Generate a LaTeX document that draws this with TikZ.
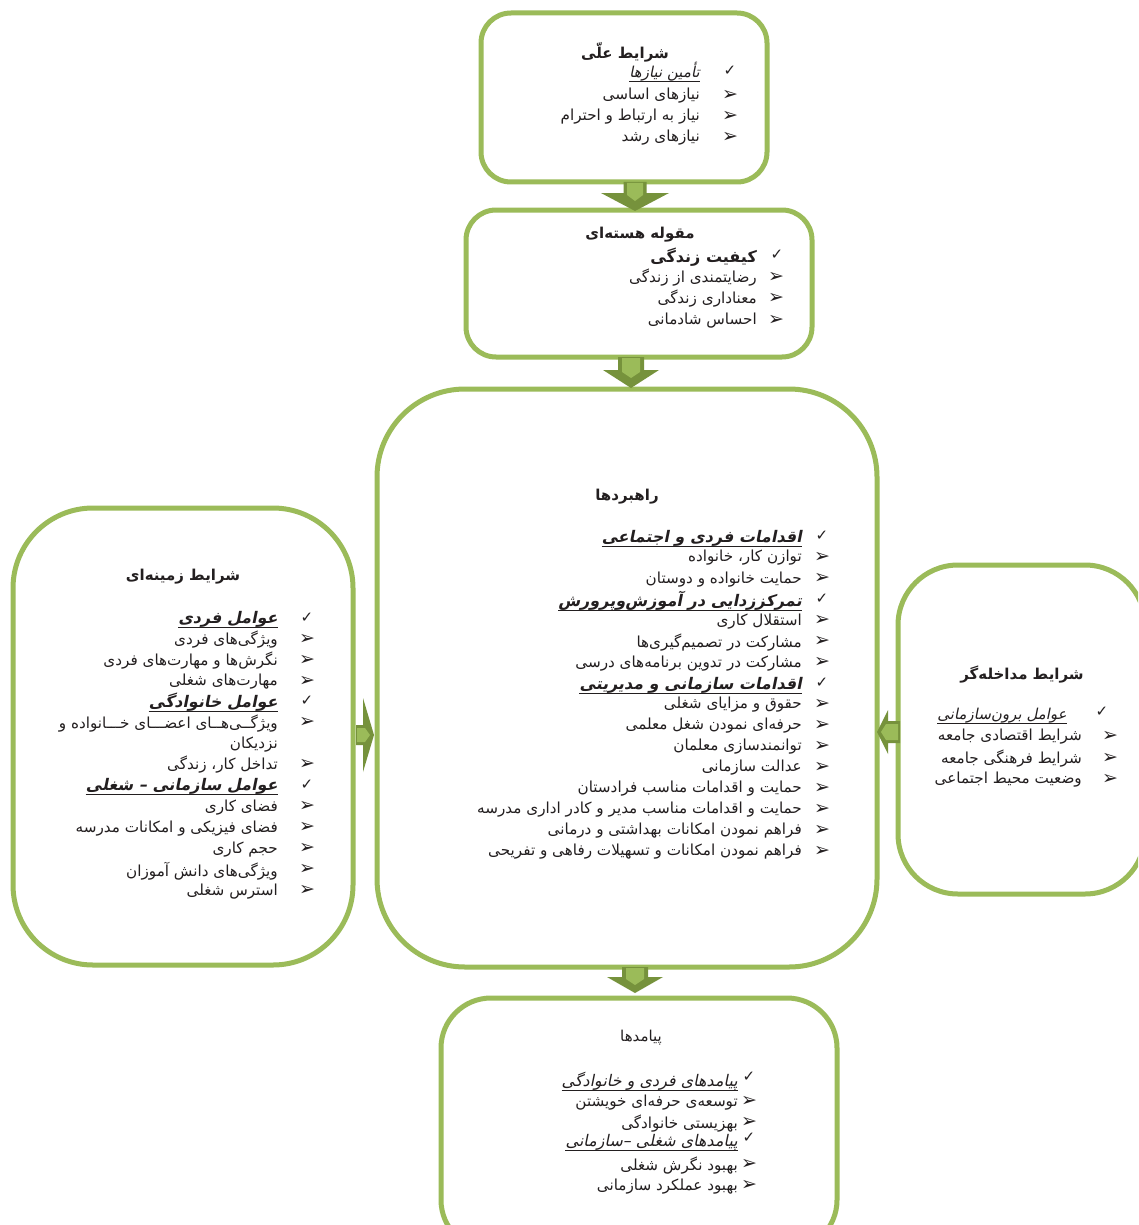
\documentclass[tikz,border=0pt]{standalone}
\usepackage{fontspec}
\usetikzlibrary{calc}
\TeXXeTstate=1
\newfontfamily\fa[Script=Arabic]{DejaVu Sans}
\newfontfamily\fait[Script=Arabic,FakeSlant=0.2]{DejaVu Sans}
\newfontfamily\sym{DejaVu Sans}
\definecolor{grn}{RGB}{155,187,89}
\definecolor{dkgrn}{RGB}{118,146,60}
\definecolor{ink}{RGB}{35,31,32}
\tikzset{
  pbox/.style={draw=grn, line width=5pt, rounded corners=#1, outer sep=0pt, inner sep=0pt, fill=white},
  pbox/.default=30pt,
  txt/.style={font=\fa\fontsize{15.2}{17}\selectfont, inner sep=0pt, anchor=east, text=ink},
  itx/.style={txt, font=\fait\fontsize{15}{17}\selectfont},
  itxb/.style={txt, font=\fait\fontsize{16}{18}\selectfont},
  hd/.style={txt, font=\fait\bfseries\fontsize{16}{18}\selectfont},
  hdup/.style={txt, font=\fa\bfseries\fontsize{16}{18}\selectfont},
  ttl/.style={font=\fa\bfseries\fontsize{15}{17}\selectfont, inner sep=0pt, text=ink},
  ttlr/.style={font=\fa\fontsize{15}{17}\selectfont, inner sep=0pt, text=ink},
  ck/.style={font=\sym\fontsize{15}{17}\selectfont, inner sep=0pt, text=ink},
  arh/.style={font=\sym\fontsize{19}{21}\selectfont, inner sep=0pt, text=ink},
  uln/.style={draw=ink, line width=1pt},
  adark/.style={fill=dkgrn},
  alight/.style={fill=grn}
}
\begin{document}
\begin{tikzpicture}[x=1pt,y=-1pt]
\useasboundingbox (0,0) rectangle (1138,1225);
\clip (0,0) rectangle (1138,1225);
\fill[white] (0,0) rectangle (1138,1225);
% boxes
\node[pbox=30pt, minimum width=286pt, minimum height=169pt] (causal) at (624,97.5) {};
\node[pbox=30pt, minimum width=346pt, minimum height=147pt] (core) at (639,283.5) {};
\node[pbox=88pt, minimum width=500pt, minimum height=578pt] (strat) at (627,678) {};
\node[pbox=80pt, minimum width=340pt, minimum height=457pt] (ctx) at (183,736.5) {};
\node[pbox=60pt, minimum width=247pt, minimum height=329pt] (interv) at (1021.5,729.5) {};
\node[pbox=50pt, minimum width=396pt, minimum height=252pt] (cons) at (639,1124) {};
% arrows
\begin{scope}[shift={(635,0 |- causal.south)}]
  \fill[adark] (-11.5,0) -- (11.5,0) -- (11.5,11) -- (34,11) -- (0,29) -- (-34,11) -- (-11.5,11) -- cycle;
  \fill[alight] (-8,1) -- (8,1) -- (8,13) -- (0,19) -- (-8,13) -- cycle;
\end{scope}
\begin{scope}[shift={(631,0 |- core.south)}]
  \fill[adark] (-13,0) -- (13,0) -- (13,13) -- (28,13) -- (0,31) -- (-28,13) -- (-13,13) -- cycle;
  \fill[alight] (-9,1) -- (9,1) -- (9,15) -- (0,21) -- (-9,15) -- cycle;
\end{scope}
\begin{scope}[shift={(635,0 |- strat.south)}]
  \fill[adark] (-13,0) -- (13,0) -- (13,10) -- (28,10) -- (0,26) -- (-28,10) -- (-13,10) -- cycle;
  \fill[alight] (-9,1) -- (9,1) -- (9,12) -- (0,18) -- (-9,12) -- cycle;
\end{scope}
\begin{scope}[shift={(ctx.east |- 0,735)}]
  \fill[adark] (3,-10) -- (10,-10) -- (10,-37) -- (21,0) -- (10,37) -- (10,10) -- (3,10) -- cycle;
  \fill[alight] (4,-7) -- (12,-7) -- (17,0) -- (12,7) -- (4,7) -- cycle;
\end{scope}
\begin{scope}[shift={(interv.west |- 0,732)}]
  \fill[adark] (2,-11) -- (-10,-11) -- (-10,-22) -- (-21,0) -- (-10,22) -- (-10,11) -- (2,11) -- cycle;
  \fill[alight] (0,-8) -- (-12,-8) -- (-17,0) -- (-12,8) -- (0,8) -- cycle;
\end{scope}
% ---- box 1: causal conditions
\node[ttl] (c0) at (625,52) {\beginR شرایط علّی\endR};
\node[itx] (c1) at (700,72) {\beginR تأمین نیازها\endR};
\node[txt] (c2) at (700,96) {\beginR نیازهای اساسی\endR};
\node[txt] (c3) at (700,117) {\beginR نیاز به ارتباط و احترام\endR};
\node[txt] (c4) at (700,138) {\beginR نیازهای رشد\endR};
\node[ck] (cb1) at (730,71) {✓};
\node[arh] (cb2) at (730,95) {➢};
\node[arh] (cb3) at (730,116) {➢};
\node[arh] (cb4) at (730,137) {➢};
\draw[uln] (c1.south west) -- (c1.south east);
% ---- box 2: core category
\node[ttl] (k0) at (640,235) {\beginR مقوله هسته‌ای\endR};
\node[hdup] (k1) at (757,257) {\beginR کیفیت زندگی\endR};
\node[txt] (k2) at (757,278) {\beginR رضایتمندی از زندگی\endR};
\node[txt] (k3) at (757,299) {\beginR معناداری زندگی\endR};
\node[txt] (k4) at (757,321) {\beginR احساس شادمانی\endR};
\node[ck] (kb1) at (777,255) {✓};
\node[arh] (kb2) at (776,277) {➢};
\node[arh] (kb3) at (776,298) {➢};
\node[arh] (kb4) at (776,320) {➢};
% ---- box 3: strategies
\node[ttl] (s0) at (627,497) {\beginR راهبردها\endR};
\node[hd] (s1) at (802,538) {\beginR اقدامات فردی و اجتماعی\endR};
\node[txt] (s2) at (802,558) {\beginR توازن کار، خانواده\endR};
\node[txt] (s3) at (802,580) {\beginR حمایت خانواده و دوستان\endR};
\node[hd] (s4) at (802,601) {\beginR تمرکززدایی در آموزش‌وپرورش\endR};
\node[txt] (s5) at (802,622) {\beginR استقلال کاری\endR};
\node[txt] (s6) at (802,643) {\beginR مشارکت در تصمیم‌گیری‌ها\endR};
\node[txt] (s7) at (802,664) {\beginR مشارکت در تدوین برنامه‌های درسی\endR};
\node[hd] (s8) at (802,685) {\beginR اقدامات سازمانی و مدیریتی\endR};
\node[txt] (s9) at (802,705) {\beginR حقوق و مزایای شغلی\endR};
\node[txt] (s10) at (802,726) {\beginR حرفه‌ای نمودن شغل معلمی\endR};
\node[txt] (s11) at (802,747) {\beginR توانمندسازی معلمان\endR};
\node[txt] (s12) at (802,768) {\beginR عدالت سازمانی\endR};
\node[txt] (s13) at (802,789) {\beginR حمایت و اقدامات مناسب فرادستان\endR};
\node[txt] (s14) at (802,810) {\beginR حمایت و اقدامات مناسب مدیر و کادر اداری مدرسه\endR};
\node[txt] (s15) at (802,831) {\beginR فراهم نمودن امکانات بهداشتی و درمانی\endR};
\node[txt] (s16) at (802,852) {\beginR فراهم نمودن امکانات و تسهیلات رفاهی و تفریحی\endR};
\node[ck] (sb1) at (822,536) {✓};
\node[arh] (sb2) at (822,557) {➢};
\node[arh] (sb3) at (822,578) {➢};
\node[ck] (sb4) at (822,599) {✓};
\node[arh] (sb5) at (822,620) {➢};
\node[arh] (sb6) at (822,641) {➢};
\node[arh] (sb7) at (822,662) {➢};
\node[ck] (sb8) at (822,683) {✓};
\node[arh] (sb9) at (822,704) {➢};
\node[arh] (sb10) at (822,725) {➢};
\node[arh] (sb11) at (822,746) {➢};
\node[arh] (sb12) at (822,767) {➢};
\node[arh] (sb13) at (822,788) {➢};
\node[arh] (sb14) at (822,809) {➢};
\node[arh] (sb15) at (822,830) {➢};
\node[arh] (sb16) at (822,851) {➢};
\draw[uln] (s1.south west) -- (s1.south east);
\draw[uln] (s4.south west) -- (s4.south east);
\draw[uln] (s8.south west) -- (s8.south east);
% ---- box 4: contextual conditions
\node[ttl] (z0) at (183,577) {\beginR شرایط زمینه‌ای\endR};
\node[hd] (z1) at (278,619) {\beginR عوامل فردی\endR};
\node[txt] (z2) at (278,640) {\beginR ویژگی‌های فردی\endR};
\node[txt] (z3) at (278,661) {\beginR نگرش‌ها و مهارت‌های فردی\endR};
\node[txt] (z4) at (278,682) {\beginR مهارت‌های شغلی\endR};
\node[hd] (z5) at (278,702) {\beginR عوامل خانوادگی\endR};
\node[txt] (z6) at (278,724) {\beginR ویژگــی‌هــای اعضـــای خـــانواده و\endR};
\node[txt] (z7) at (278,745) {\beginR نزدیکان\endR};
\node[txt] (z8) at (278,765) {\beginR تداخل کار، زندگی\endR};
\node[hd] (z9) at (278,786) {\beginR عوامل سازمانی – شغلی\endR};
\node[txt] (z10) at (278,808) {\beginR فضای کاری\endR};
\node[txt] (z11) at (278,829) {\beginR فضای فیزیکی و امکانات مدرسه\endR};
\node[txt] (z12) at (278,850) {\beginR حجم کاری\endR};
\node[txt] (z13) at (278,871) {\beginR ویژگی‌های دانش آموزان\endR};
\node[txt] (z14) at (278,892) {\beginR استرس شغلی\endR};
\node[ck] (zb1) at (307,618) {✓};
\node[arh] (zb2) at (307,639) {➢};
\node[arh] (zb3) at (307,660) {➢};
\node[arh] (zb4) at (307,681) {➢};
\node[ck] (zb5) at (307,701) {✓};
\node[arh] (zb6) at (307,722) {➢};
\node[arh] (zb8) at (307,764) {➢};
\node[ck] (zb9) at (307,785) {✓};
\node[arh] (zb10) at (307,806) {➢};
\node[arh] (zb11) at (307,827) {➢};
\node[arh] (zb12) at (307,848) {➢};
\node[arh] (zb13) at (307,869) {➢};
\node[arh] (zb14) at (307,890) {➢};
\draw[uln] (z1.south west) -- (z1.south east);
\draw[uln] (z5.south west) -- (z5.south east);
\draw[uln] (z9.south west) -- (z9.south east);
% ---- box 5: intervening conditions
\node[ttl] (m0) at (1022,675) {\beginR شرایط مداخله‌گر\endR};
\node[itx] (m1) at (1067,716) {\beginR عوامل برون‌سازمانی\endR};
\node[txt] (m2) at (1082,737) {\beginR شرایط اقتصادی جامعه\endR};
\node[txt] (m3) at (1082,759) {\beginR شرایط فرهنگی جامعه\endR};
\node[txt] (m4) at (1082,780) {\beginR وضعیت محیط اجتماعی\endR};
\node[ck] (mb1) at (1102,712) {✓};
\node[arh] (mb2) at (1110,736) {➢};
\node[arh] (mb3) at (1110,758) {➢};
\node[arh] (mb4) at (1110,779) {➢};
\draw[uln] (m1.south west) -- (m1.south east);
% ---- box 6: consequences
\node[ttlr] (p0) at (641,1038) {\beginR پیامدها\endR};
\node[itxb] (p1) at (738,1081) {\beginR پیامدهای فردی و خانوادگی\endR};
\node[txt] (p2) at (738,1103) {\beginR توسعه‌ی حرفه‌ای خویشتن\endR};
\node[txt] (p3) at (738,1124) {\beginR بهزیستی خانوادگی\endR};
\node[itxb] (p4) at (738,1142) {\beginR پیامدهای شغلی –سازمانی\endR};
\node[txt] (p5) at (738,1166) {\beginR بهبود نگرش شغلی\endR};
\node[txt] (p6) at (738,1187) {\beginR بهبود عملکرد سازمانی\endR};
\node[ck] (pb1) at (749,1077) {✓};
\node[arh] (pb2) at (749,1101) {➢};
\node[arh] (pb3) at (749,1122) {➢};
\node[ck] (pb4) at (749,1138) {✓};
\node[arh] (pb5) at (749,1164) {➢};
\node[arh] (pb6) at (749,1185) {➢};
\draw[uln] (p1.south west) -- (p1.south east);
\draw[uln] (p4.south west) -- (p4.south east);
\end{tikzpicture}
\end{document}
